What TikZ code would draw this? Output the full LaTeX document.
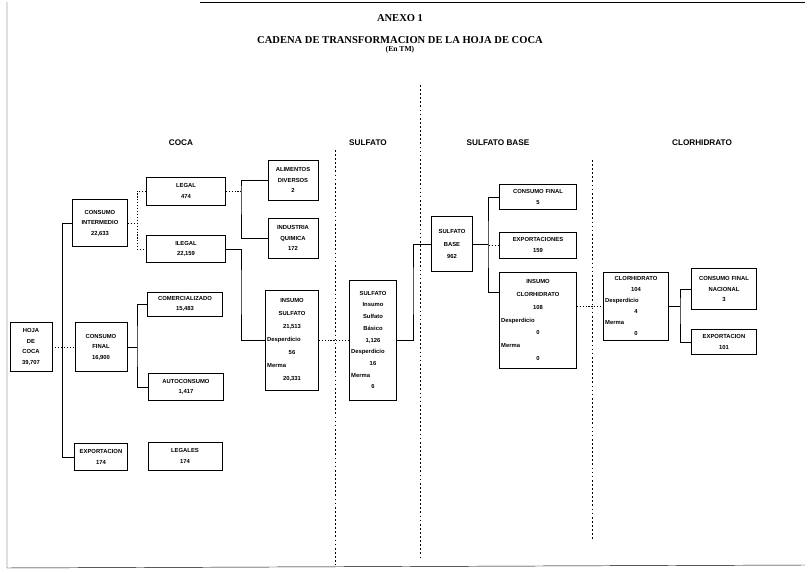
\documentclass[tikz,border=0pt]{standalone}
\usepackage{fontspec}
\setmainfont{Liberation Sans}
\newfontfamily\titulofont{Liberation Serif}
\newcommand{\izq}[1]{\makebox[\hsize][l]{#1}}
\begin{document}
\begin{tikzpicture}[x=0.03cm,y=-0.03cm,
  caja/.style={draw, thin, align=center, inner sep=1pt, font=\fontsize{5}{9}\selectfont\bfseries},
  cajaalta/.style={caja, font=\fontsize{5}{11}\selectfont\bfseries},
  conector/.style={thin},
  punteado/.style={thin, dash pattern=on 1pt off 1.5pt},
  divisor/.style={thin, dash pattern=on 1.5pt off 2pt},
  columna/.style={font=\fontsize{7}{8}\selectfont\bfseries},
  titulo/.style={font=\titulofont\fontsize{9}{10}\selectfont\bfseries}]
\useasboundingbox (0,0) rectangle (809,573);
\draw[conector] (200,2) -- (805,2);
\draw[conector] (7,2) -- (7,568) -- (805,565);
\node[titulo] (anexo) at (400,18) {ANEXO 1};
\node[titulo] (cadena) at (400,40) {CADENA DE TRANSFORMACION DE LA HOJA DE COCA};
\node[titulo, font=\titulofont\fontsize{6.5}{7}\selectfont\bfseries] (unidad) at (400,50) {(En TM)};
\draw[divisor] (335,150) -- (335,565);
\draw[divisor] (420,85) -- (420,560);
\draw[divisor] (592,160) -- (592,540);
\node[columna] (ccoca) at (181,143) {COCA};
\node[columna] (csulfato) at (368,143) {SULFATO};
\node[columna] (cbase) at (498,143) {SULFATO BASE};
\node[columna] (cclor) at (702,143) {CLORHIDRATO};
\node[caja, minimum width=1.26cm, minimum height=1.47cm, text width=1.16cm] (hoja) at (31,347) {HOJA\\DE\\COCA\\39,707};
\node[caja, minimum width=1.65cm, minimum height=1.41cm, text width=1.55cm] (ci) at (100,223) {CONSUMO\\INTERMEDIO\\22,633};
\node[caja, minimum width=1.56cm, minimum height=1.47cm, text width=1.46cm] (cf) at (101,347) {CONSUMO\\FINAL\\16,900};
\node[caja, minimum width=1.59cm, minimum height=0.81cm, text width=1.49cm] (exp) at (101,457) {EXPORTACION\\174};
\node[caja, minimum width=2.37cm, minimum height=0.84cm, text width=2.27cm] (legal) at (186,191) {LEGAL\\474};
\node[caja, minimum width=2.37cm, minimum height=0.81cm, text width=2.27cm] (ilegal) at (186,249) {ILEGAL\\22,159};
\node[caja, minimum width=2.25cm, minimum height=0.72cm, text width=2.15cm] (comerc) at (185,304) {COMERCIALIZADO\\15,483};
\node[caja, minimum width=2.25cm, minimum height=0.81cm, text width=2.15cm] (auto) at (186,387) {AUTOCONSUMO\\1,417};
\node[caja, minimum width=2.22cm, minimum height=0.84cm, text width=2.12cm] (legales) at (185,456) {LEGALES\\174};
\node[caja, minimum width=1.5cm, minimum height=1.2cm, text width=1.4cm] (alim) at (293,180) {ALIMENTOS\\DIVERSOS\\2};
\node[caja, minimum width=1.5cm, minimum height=1.2cm, text width=1.4cm] (indus) at (293,238) {INDUSTRIA\\QUIMICA\\172};
\node[cajaalta, minimum width=1.59cm, minimum height=3.0cm, text width=1.49cm] (insul) at (292,340) {INSUMO\\SULFATO\\21,513\\\izq{Desperdicio}\\56\\\izq{Merma}\\20,331};
\node[cajaalta, font=\fontsize{5}{10}\selectfont\bfseries, minimum width=1.41cm, minimum height=3.6cm, text width=1.31cm] (sulf) at (373,340) {SULFATO\\Insumo\\Sulfato\\B\'asico\\1,126\\\izq{Desperdicio}\\16\\\izq{Merma}\\6};
\node[caja, font=\fontsize{5}{11}\selectfont\bfseries, minimum width=1.23cm, minimum height=1.65cm, text width=1.13cm] (sb) at (452,244) {SULFATO\\BASE\\962};
\node[caja, minimum width=2.31cm, minimum height=0.75cm, text width=2.21cm] (cfsb) at (538,197) {CONSUMO FINAL\\5};
\node[caja, minimum width=2.31cm, minimum height=0.78cm, text width=2.21cm] (expsb) at (538,245) {EXPORTACIONES\\159};
\node[cajaalta, minimum width=2.31cm, minimum height=2.88cm, text width=2.21cm] (incl) at (538,320) {INSUMO\\CLORHIDRATO\\108\\\izq{Desperdicio}\\0\\\izq{Merma}\\0};
\node[caja, font=\fontsize{5}{9.5}\selectfont\bfseries, minimum width=1.95cm, minimum height=2.04cm, text width=1.85cm] (cl) at (636,306) {CLORHIDRATO\\104\\\izq{Desperdicio}\\4\\\izq{Merma}\\0};
\node[caja, minimum width=1.95cm, minimum height=1.23cm, text width=1.85cm] (cfn) at (724,289) {CONSUMO FINAL\\NACIONAL\\3};
\node[caja, minimum width=1.95cm, minimum height=0.75cm, text width=1.85cm] (expcl) at (724,342) {EXPORTACION\\101};
\coordinate (b1) at (62,223);
\coordinate (b2) at (137,223);
\coordinate (b3) at (137,347);
\coordinate (b4) at (241,191);
\coordinate (b5) at (241,290);
\coordinate (b6) at (413,290);
\coordinate (b7) at (488,244);
\coordinate (b7c) at (500,292);
\coordinate (b8) at (680,306);
\draw[punteado] (hoja.east) -- (cf.west);
\draw[conector] (ci.west) -- (b1) |- (exp.west);
\draw[punteado] (ci.east) -- (b2);
\draw[punteado] (legal.west) -| (b2) |- (ilegal.west);
\draw[conector] (cf.east) -- (b3);
\draw[conector] (comerc.west) -| (b3) |- (auto.west);
\draw[punteado] (legal.east) -- (b4);
\draw[conector] (alim.west) -| (b4) |- (indus.west);
\draw[conector] (ilegal.east) -| (b5) |- (insul.west);
\draw[punteado] (insul.east) -- (sulf.west);
\draw[conector] (sulf.east) -| (b6) |- (sb.west);
\draw[conector] (sb.east) -- (b7);
\draw[conector] (cfsb.west) -| (b7) |- (b7c);
\draw[punteado] (expsb.west) -- (expsb.west -| b7);
\draw[punteado] (cl.west -| incl.east) -- (cl.west);
\draw[conector] (cl.east) -- (b8);
\draw[conector] (cfn.west) -| (b8) |- (expcl.west);
\end{tikzpicture}
\end{document}
